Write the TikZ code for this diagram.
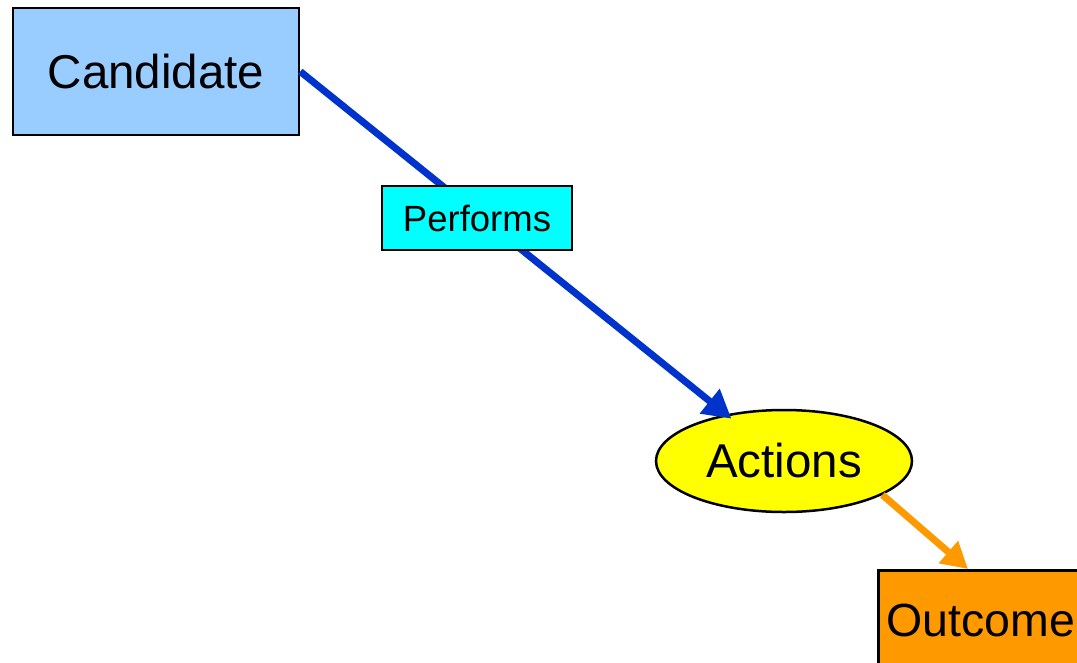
\documentclass[tikz,border=0pt]{standalone}
\usepackage{fontspec}
\setmainfont{Liberation Sans}
\usetikzlibrary{shapes.geometric,arrows.meta,calc}
\definecolor{candblue}{HTML}{99CCFF}
\definecolor{perfcyan}{HTML}{00FFFF}
\definecolor{actyellow}{HTML}{FFFF00}
\definecolor{outorange}{HTML}{FF9900}
\definecolor{linkblue}{HTML}{0033CC}
\tikzset{
  bigtext/.style={font=\fontsize{47.5}{52}\selectfont},
  smalltext/.style={font=\fontsize{36.5}{40}\selectfont},
  entity/.style={draw=black, line width=2.5pt, inner sep=0pt, bigtext},
  linkbox/.style={draw=black, line width=2.5pt, inner sep=0pt, fill=perfcyan, smalltext},
  bluelink/.style={draw=linkblue, line width=7pt,
    -{Triangle[length=28pt,width=30pt]}},
  orangelink/.style={draw=outorange, line width=7pt,
    -{Triangle[length=26pt,width=28pt]}},
}
\begin{document}
\begin{tikzpicture}[x=1pt,y=-1pt]
  \useasboundingbox (0,0) rectangle (1077,662);
  \clip (0,0) rectangle (1077,662);

  % entities
  \node[entity, fill=candblue, minimum width=286pt, minimum height=127pt]
    (cand) at (156,71.5) {Candidate};
  \node[entity, ellipse, fill=actyellow, minimum width=256pt, minimum height=102pt]
    (act) at (784,461) {Actions};
  \node[entity, fill=outorange, anchor=north west, minimum width=240pt,
    minimum height=120pt]
    (out) at (877,569) {};
  \node[anchor=base west, inner sep=0pt, font=\fontsize{46.5}{50}\selectfont]
    (outlabel) at (886,636) {Outcome};

  % relationships
  \draw[bluelink, shorten >=-7pt] (cand.east) -- (act);
  \node[linkbox, minimum width=190pt, minimum height=64pt]
    (perf) at (477,218) {Performs};
  \coordinate (outtop) at ($(out.north west)+(91,0)$);
  \draw[orangelink] (act.-19) -- (outtop);
\end{tikzpicture}
\end{document}
